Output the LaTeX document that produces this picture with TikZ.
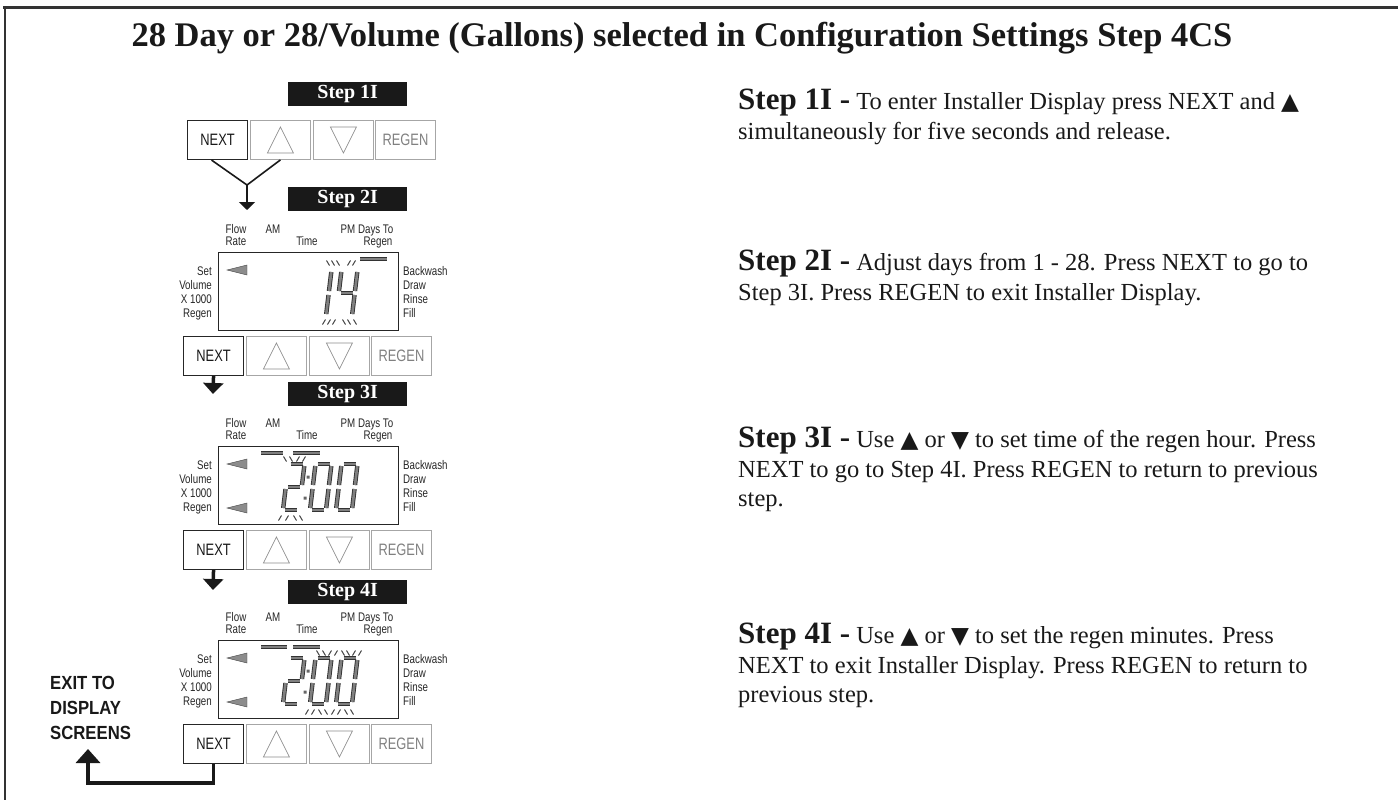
\documentclass[tikz,border=0pt]{standalone}
\usepackage{fontspec}
\setmainfont{Liberation Serif}
\newfontfamily\panelfont[FakeStretch=0.78]{Liberation Sans}
\newfontfamily\exitfont[FakeStretch=0.88]{Liberation Sans}
\newfontfamily\symfont[Scale=0.95]{DejaVu Sans}
\usetikzlibrary{arrows.meta}
\newcommand\upmark{{\symfont ▲}}
\newcommand\downmark{{\symfont ▼}}
\newcommand\stepnamefont{\bfseries\fontsize{31}{30}\selectfont}
% seven segment pieces, digit 16 wide and 46 high
\newcommand\segA{(2,46) -- (14,46)}
\newcommand\segB{(16,44) -- (16,25)}
\newcommand\segC{(16,21) -- (16,2)}
\newcommand\segD{(2,0) -- (14,0)}
\newcommand\segE{(0,2) -- (0,21)}
\newcommand\segF{(0,25) -- (0,44)}
\newcommand\segG{(2,23) -- (14,23)}
\newcommand\lcddigit[3]{%
  \begin{scope}[shift={(#1,#2)}, y=1pt, xslant=0.12]
    \foreach \s in {#3} {\draw[seg] \csname seg\s\endcsname;}
  \end{scope}}
\newcommand\flashticks[2]{%
  \foreach \x/\d in {#2} {\draw[flash] ({\x-1.5*\d},{#1-2.5}) -- ({\x+1.5*\d},{#1+2.5});}}
\begin{document}
\begin{tikzpicture}[x=1pt, y=-1pt,
  steplabel/.style={fill=black!90, text=white, font=\bfseries\fontsize{20}{20}\selectfont, minimum width=119pt, minimum height=24pt, inner sep=0pt, anchor=north west},
  key/.style={draw=black!35, line width=0.9pt, minimum width=60pt, minimum height=39pt, inner sep=0pt, anchor=north west, font=\panelfont\fontsize{16.5}{16.5}\selectfont},
  nextkey/.style={key, draw=black!85, line width=1.1pt, text=black!90},
  lcd/.style={draw=black!85, line width=0.9pt, minimum width=180pt, minimum height=78pt, inner sep=0pt, anchor=north west},
  lcdlabel/.style={font=\panelfont\fontsize{12.5}{14}\selectfont, inner sep=0pt, text=black!85, anchor=base},
  seg/.style={draw=black!50, line width=2.6pt, preaction={draw=black!80, line width=4.4pt}},
  flash/.style={black!75, line width=1pt},
  pointer/.style={fill=black!45, draw=black!70, line width=0.4pt},
  keyglyph/.style={draw=black!45, line width=0.7pt},
  steptext/.style={anchor=north west, align=left, inner sep=0pt, text=black!90, font=\fontsize{24.5}{29.5}\selectfont},
  forkline/.style={black!90, line width=1.6pt},
  flowarrow/.style={black!90, line width=3.5pt, -{Triangle[width=20pt,length=11pt]}},
  exitarrow/.style={black!90, line width=3.5pt, line join=miter, -{Triangle[width=24pt,length=14pt]}}]
\useasboundingbox (0,0) rectangle (1398,800);
% frame
\draw[line width=3pt, black!80] (3,8) -- (1398,8);
\draw[line width=2pt, black!80] (5,8) -- (5,800);
\node[font=\bfseries\fontsize{34.5}{34.5}\selectfont, anchor=base, text=black!90] (title) at (682,47) {28 Day or 28/Volume (Gallons) selected in Configuration Settings Step 4CS};
% step labels
\node[steplabel] (s1) at (288,82) {Step 1I};
\node[steplabel] (s2) at (288,187) {Step 2I};
\node[steplabel] (s3) at (288,382) {Step 3I};
\node[steplabel] (s4) at (288,580) {Step 4I};
% key rows
\foreach \n/\x/\y in {1/187/120, 2/183/336, 3/183/530, 4/183/724} {
  \node[nextkey] (next\n) at (\x,\y) {NEXT};
  \node[key] (up\n) at (\x+63,\y) {};
  \node[key] (down\n) at (\x+126,\y) {};
  \node[key, text=black!50] (regen\n) at (\x+188,\y) {REGEN};
  \draw[keyglyph] (up\n.center) ++(0,-13) -- ++(13,26) -- ++(-26,0) -- cycle;
  \draw[keyglyph] (down\n.center) ++(0,13) -- ++(13,-26) -- ++(-26,0) -- cycle;
}
% displays
\foreach \n/\t in {2/252, 3/446, 4/640} {
  \node[lcd] (lcd\n) at (218,\t) {};
  \node[lcdlabel] (flow\n) at (236,\t-18.5) {Flow};
  \node[lcdlabel] (rate\n) at (236,\t-6.5) {Rate};
  \node[lcdlabel] (am\n) at (273,\t-18.5) {AM};
  \node[lcdlabel] (time\n) at (307,\t-6.5) {Time};
  \node[lcdlabel] (days\n) at (367,\t-18.5) {PM Days To};
  \node[lcdlabel] (regenlbl\n) at (378,\t-6.5) {Regen};
  \node[lcdlabel, align=right, anchor=north east] (modes\n) at (212,\t+14.5) {Set\\Volume\\X 1000\\Regen};
  \node[lcdlabel, align=left, anchor=north west] (cycle\n) at (403,\t+14.5) {Backwash\\Draw\\Rinse\\Fill};
  \draw[pointer] (227,\t+18) -- (247,\t+13) -- (247,\t+23) -- cycle;
}
\draw[pointer] (227,508) -- (247,503) -- (247,513) -- cycle;
\draw[pointer] (227,702) -- (247,697) -- (247,707) -- cycle;
% digits 14
\lcddigit{310}{316}{B,C}
\lcddigit{336}{316}{F,G,B,C}
\draw[seg] (360,259) -- (387,259);
\flashticks{263}{328/1,333/1,338/1,349/-1,354/-1}
\flashticks{322}{324/-1,329/-1,334/-1,344/1,349/1,355/1}
% digits 2:00
\lcddigit{283}{510}{A,B,G,E,D}
\lcddigit{310}{510}{A,B,C,D,E,F}
\lcddigit{336}{510}{A,B,C,D,E,F}
\fill[black!60] (306.5,475.5) rectangle ++(3,3) (303.5,496.5) rectangle ++(3,3);
\draw[seg] (261,453) -- (283,453) (293,453) -- (320,453);
\flashticks{459}{285/1,291/1,298/-1,304/-1}
\flashticks{518}{280/-1,287/-1,295/1,301/1}
% digits 2:00 again
\lcddigit{283}{704}{A,B,G,E,D}
\lcddigit{310}{704}{A,B,C,D,E,F}
\lcddigit{336}{704}{A,B,C,D,E,F}
\fill[black!60] (306.5,669.5) rectangle ++(3,3) (303.5,690.5) rectangle ++(3,3);
\draw[seg] (261,647) -- (287,647) (293,647) -- (320,647);
\flashticks{653}{318/1,324/1,330/-1,336/-1,343/1,348/1,354/-1,360/-1}
\flashticks{712}{307/-1,313/-1,320/1,326/1,333/-1,339/-1,346/1,352/1}
% connectors
\coordinate (fork) at (247,185);
\coordinate (forkend) at (247,210);
\coordinate (arrow3) at (213,394);
\coordinate (arrow4) at (213,590);
\coordinate (exitturn) at (88,783);
\coordinate (exittip) at (88,749);
\draw[forkline] ([xshift=-6pt]next1.south) -- (fork);
\draw[forkline] (up1.south) -- (fork);
\draw[forkline, -{Triangle[width=16pt,length=8pt]}] (fork) -- (forkend);
\draw[flowarrow] (next2.south) -- (arrow3);
\draw[flowarrow] (next3.south) -- (arrow4);
\draw[exitarrow] (next4.south) |- (exitturn) -- (exittip);
\node[anchor=north west, align=left, inner sep=0pt, text=black!90, font=\exitfont\bfseries\fontsize{19}{25}\selectfont] (exit) at (50,676) {EXIT TO\\DISPLAY\\SCREENS};
% instructions
\node[steptext] (t1) at (738,89) {{\stepnamefont Step 1I -} To enter Installer Display press NEXT and \upmark\\simultaneously for five seconds and release.};
\node[steptext] (t2) at (738,250) {{\stepnamefont Step 2I -} Adjust days from 1 - 28. Press NEXT to go to\\Step 3I. Press REGEN to exit Installer Display.};
\node[steptext] (t3) at (738,427) {{\stepnamefont Step 3I -} Use \upmark\ or \downmark\ to set time of the regen hour. Press\\NEXT to go to Step 4I. Press REGEN to return to previous\\step.};
\node[steptext] (t4) at (738,623) {{\stepnamefont Step 4I -} Use \upmark\ or \downmark\ to set the regen minutes. Press\\NEXT to exit Installer Display. Press REGEN to return to\\previous step.};
\end{tikzpicture}
\end{document}
